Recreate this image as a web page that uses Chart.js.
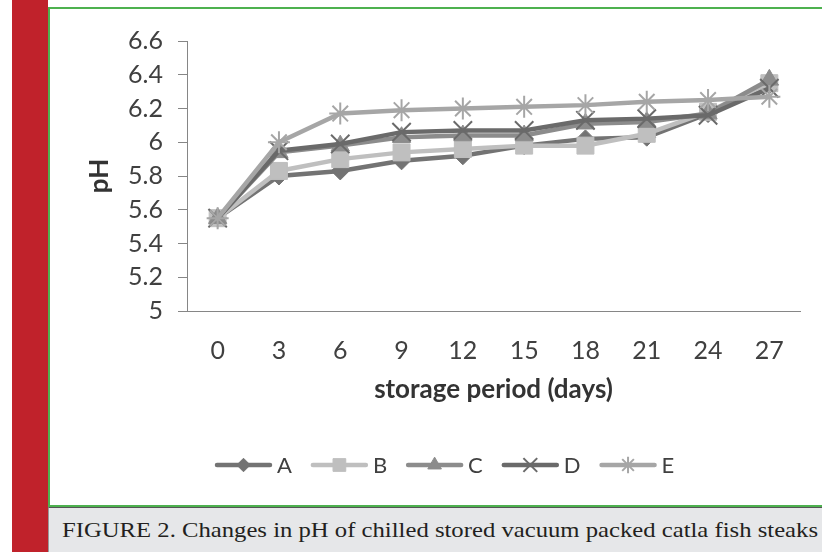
<!DOCTYPE html>
<html><head><meta charset="utf-8">
<script src="https://cdn.jsdelivr.net/npm/chart.js@4.4.1/dist/chart.umd.min.js"></script>
<style>
html,body{margin:0;padding:0;width:822px;height:552px;overflow:hidden;background:#fff;}
#red{position:absolute;left:12px;top:0;width:36px;height:552px;background:#c0222b;}
#panel{position:absolute;left:48px;top:7px;width:774px;height:500px;border-left:2px solid #4db14f;border-top:2px solid #4db14f;border-bottom:2px solid #4db14f;box-sizing:border-box;background:#fff;}
#band{position:absolute;left:48px;top:507px;width:774px;height:45px;background:#e6e7e9;border-top:1px solid #555;border-left:1px solid #999;box-sizing:border-box;}
#cap{position:absolute;left:62px;top:517px;font-family:"Liberation Serif",serif;font-size:22px;line-height:normal;color:#231f20;white-space:nowrap;transform-origin:0 0;}
#wrap{position:absolute;left:50px;top:9px;width:772px;height:496px;}
</style></head>
<body>
<div id="red"></div>
<div id="panel"></div>
<div id="band"></div>
<div id="cap">FIGURE 2. Changes in pH of chilled stored vacuum packed catla fish steaks</div>
<div id="wrap"><canvas id="c" width="772" height="496"></canvas></div>
<script>
const categories = ['0','3','6','9','12','15','18','21','24','27'];
const seriesA = [5.55, 5.80, 5.83, 5.89, 5.92, 5.98, 6.02, 6.03, 6.17, 6.34];
const seriesB = [5.55, 5.83, 5.90, 5.94, 5.96, 5.98, 5.98, 6.05, 6.18, 6.35];
const seriesC = [5.55, 5.94, 5.98, 6.03, 6.04, 6.04, 6.11, 6.12, 6.17, 6.37];
const seriesD = [5.55, 5.95, 5.99, 6.06, 6.07, 6.07, 6.13, 6.14, 6.16, 6.32];
const seriesE = [5.55, 6.00, 6.17, 6.19, 6.20, 6.21, 6.22, 6.24, 6.25, 6.27];
const seriesNames = ['A','B','C','D','E'];
const yTickLabels = [5, 5.2, 5.4, 5.6, 5.8, 6, 6.2, 6.4, 6.6];

// fit caption width
(function(){
  const cap = document.getElementById('cap');
  const w = cap.getBoundingClientRect().width;
  cap.style.transform = 'scaleX(' + (756 / w) + ')';
})();

const FONT = 'Lato, "Open Sans", sans-serif';
const styles = [
  {color:'#737373', point:'rectRot', r:9, bw:1, order:5},
  {color:'#bfbfbf', point:'rect', r:12, bw:1, order:4},
  {color:'#8c8c8c', point:'triangle', r:10.5, bw:1, order:3},
  {color:'#6a6a6a', point:'crossRot', r:13, bw:2, order:2},
  {color:'#a6a6a6', point:'star', r:11, bw:2, order:1}
];
const allSeries = [seriesA, seriesB, seriesC, seriesD, seriesE];
const datasets = allSeries.map((d, i) => ({
  label: seriesNames[i],
  data: d,
  borderColor: styles[i].color,
  backgroundColor: styles[i].color,
  borderWidth: 4.5,
  pointStyle: styles[i].point,
  pointRadius: styles[i].r,
  pointHoverRadius: styles[i].r,
  pointBackgroundColor: styles[i].color,
  pointBorderColor: styles[i].color,
  pointBorderWidth: styles[i].bw,
  tension: 0,
  order: styles[i].order
}));

const legendPlugin = {
  id: 'lineLegend',
  afterDraw(chart) {
    const ctx = chart.ctx;
    const y = 456;
    let x = 165;
    ctx.save();
    ctx.font = '22px ' + FONT;
    ctx.textBaseline = 'middle';
    ctx.textAlign = 'left';
    chart.data.datasets.forEach((ds, i) => {
      ctx.strokeStyle = ds.borderColor;
      ctx.lineWidth = ds.borderWidth;
      ctx.lineCap = 'round';
      ctx.beginPath(); ctx.moveTo(x + 2, y); ctx.lineTo(x + 55, y); ctx.stroke();
      ctx.lineCap = 'butt';
      ctx.fillStyle = ds.pointBackgroundColor;
      ctx.strokeStyle = ds.pointBorderColor;
      ctx.lineWidth = ds.pointBorderWidth;
      if (Chart.helpers && Chart.helpers.drawPoint) {
        Chart.helpers.drawPoint(ctx, {pointStyle: ds.pointStyle, rotation: 0, radius: ds.pointRadius * 0.75, borderWidth: ds.pointBorderWidth}, x + 28.5, y);
      }
      ctx.fillStyle = '#404040';
      ctx.fillText(ds.label, x + 62, y + 1);
      x += 62 + ctx.measureText(ds.label).width + 19;
    });
    ctx.restore();
  }
};

new Chart(document.getElementById('c'), {
  type: 'line',
  data: { labels: categories, datasets: datasets },
  plugins: [legendPlugin],
  options: {
    responsive: false,
    animation: false,
    events: [],
    layout: { padding: { top: 32, right: 22, bottom: 100, left: 0 } },
    plugins: { legend: { display: false }, tooltip: { enabled: false } },
    scales: {
      x: {
        type: 'category',
        offset: true,
        grid: { display: false },
        border: { display: true, color: '#868686', width: 1 },
        ticks: { color: '#404040', font: { family: FONT, size: 25 }, padding: 17, maxRotation: 0, autoSkip: false },
        title: { display: true, text: 'storage period (days)', color: '#333', font: { family: FONT, size: 26, weight: 'bold' }, padding: { top: 0, bottom: 0 } },
        afterFit(scale) { scale.height = 94; }
      },
      y: {
        min: 5, max: 6.6,
        afterBuildTicks(scale) { scale.ticks = yTickLabels.map(v => ({ value: v })); },
        grid: { display: true, drawOnChartArea: false, drawTicks: true, tickLength: 9, color: '#868686' },
        border: { display: true, color: '#868686', width: 1 },
        ticks: { color: '#404040', font: { family: FONT, size: 25 }, padding: 15, callback: v => String(Number(v.toFixed(1))) },
        title: { display: true, text: 'pH', color: '#333', font: { family: FONT, size: 26, weight: 'bold' }, padding: { top: 34, bottom: 0 } },
        afterFit(scale) { scale.width = 137; }
      }
    }
  }
});
</script>
</body></html>
